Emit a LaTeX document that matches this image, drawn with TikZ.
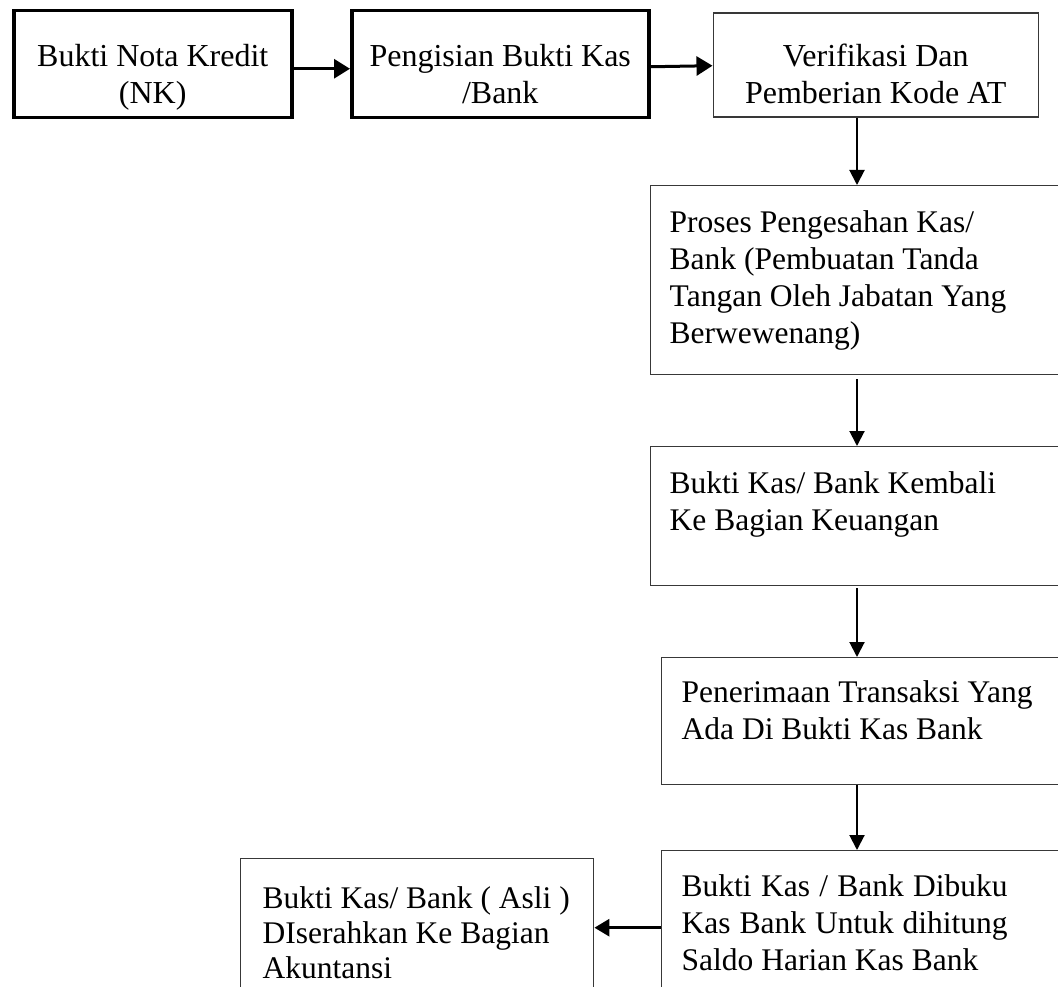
\documentclass[tikz,border=0pt]{standalone}
\usepackage{fontspec}
\setmainfont{Liberation Serif}
\usetikzlibrary{arrows.meta}
\newcommand{\fsmall}{\fontsize{31.5}{37}\selectfont}
\newcommand{\fbig}{\fontsize{32}{37}\selectfont}
\begin{document}
\begin{tikzpicture}[x=1pt,y=-1pt,
  thickbox/.style={draw=black, line width=3.5pt, inner sep=0pt, anchor=north west},
  thinbox/.style={draw=black!78, line width=1.4pt, inner sep=0pt, anchor=north west},
  harr/.style={-{Triangle[length=16pt,width=19pt]}, line width=3pt},
  varr/.style={-{Triangle[length=15pt,width=15pt]}, line width=2pt},
  larr/.style={-{Triangle[length=15pt,width=17pt]}, line width=3pt}]
\useasboundingbox (0,0) rectangle (1058,987);
\fill[white] (0,0) rectangle (1058,987);
\clip (0,0) rectangle (1058,987);

\node[thickbox] (b1) at (12,9) {\parbox[c][107pt][t]{278pt}{\fbig\centering\vspace*{34pt}\rule{0pt}{22pt}Bukti Nota Kredit\\(NK)}};
\node[thickbox] (b2) at (350,9) {\parbox[c][107pt][t]{297pt}{\fbig\centering\vspace*{34pt}\rule{0pt}{22pt}Pengisian Bukti Kas\\/Bank}};
\node[thinbox] (b3) at (712.5,12.5) {\parbox[c][104pt][t]{325pt}{\fbig\centering\vspace*{30.5pt}\rule{0pt}{22pt}Verifikasi Dan\\Pemberian Kode AT}};

\node[thinbox] (b4) at (649.5,185) {\parbox[c][189pt][t]{420pt}{\fsmall\leftskip=19.5pt\vspace*{25pt}\rule{0pt}{22pt}Proses Pengesahan Kas/\\Bank (Pembuatan Tanda\\Tangan Oleh Jabatan Yang\\Berwewenang)}};
\node[thinbox] (b5) at (649.5,446) {\parbox[c][139pt][t]{420pt}{\fsmall\leftskip=19.5pt\vspace*{25pt}\rule{0pt}{22pt}Bukti Kas/ Bank Kembali\\Ke Bagian Keuangan}};
\node[thinbox] (b6) at (661,657) {\parbox[c][127pt][t]{410pt}{\fsmall\leftskip=20pt\vspace*{23pt}\rule{0pt}{22pt}Penerimaan Transaksi Yang\\Ada Di Bukti Kas Bank}};
\node[thinbox] (b7) at (661,850) {\parbox[c][160pt][t]{410pt}{\fsmall\leftskip=20pt\vspace*{24pt}\rule{0pt}{22pt}\makebox[326pt][s]{Bukti Kas / Bank Dibuku}\\\makebox[326pt][s]{Kas Bank Untuk dihitung}\\Saldo Harian Kas Bank}};
\node[thinbox] (b8) at (240,858) {\parbox[c][150pt][t]{353pt}{\fontsize{31.5}{35}\selectfont\leftskip=22pt\vspace*{28pt}\rule{0pt}{22pt}Bukti Kas/ Bank ( Asli )\\DIserahkan Ke Bagian\\Akuntansi}};

\coordinate (ax) at (857,0);
\draw[harr] ([yshift=-4.5pt]b1.east) -- ([yshift=-4.5pt]b2.west);
\draw[harr] ([yshift=-2.5pt]b2.east) -- ([yshift=-0.5pt]b3.west);
\draw[varr] (ax |- b3.south) -- (ax |- b4.north);
\draw[varr, shorten <=4pt] (ax |- b4.south) -- (ax |- b5.north);
\draw[varr, shorten <=2pt] (ax |- b5.south) -- (ax |- b6.north);
\draw[varr] (ax |- b6.south) -- (ax |- b7.north);
\draw[larr] ([yshift=3pt]b7.west) -- ([yshift=6pt]b8.east);
\end{tikzpicture}
\end{document}
